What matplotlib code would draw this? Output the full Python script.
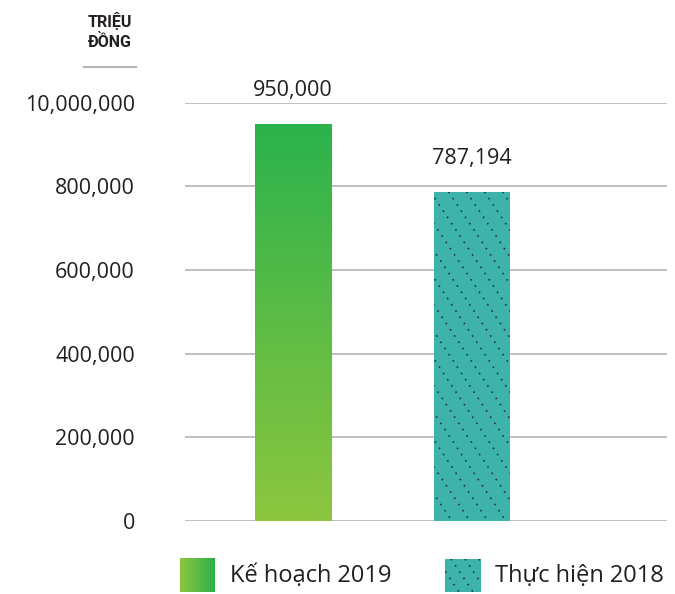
import matplotlib.pyplot as plt
import numpy as np
from matplotlib.colors import LinearSegmentedColormap
from matplotlib.patches import Rectangle

# data
categories = ["Kế hoạch 2019", "Thực hiện 2018"]
values = [950000, 787194]
value_labels = ["950,000", "787,194"]
yticks = [0, 200000, 400000, 600000, 800000, 1000000]
ytick_labels = ["0", "200,000", "400,000", "600,000", "800,000", "10,000,000"]

plt.rcParams['font.family'] = ['Open Sans', 'DejaVu Sans']

green_top = "#2bb24c"
green_bot = "#8dc63f"
teal = "#3db3ac"
dot_col = "#1d3b4a"
grad = LinearSegmentedColormap.from_list("g", [green_bot, green_top])

XLIM = (-0.603, 2.089)
YLIM = (0, 1000000)


def dotted_hatch(axis, patch, ux, uy, step_px=18, steep=1.5):
    # diagonal dotted lines (top-left -> bottom-right) clipped to patch
    px0, py0 = patch.get_x(), patch.get_y()
    pw, ph = patch.get_width(), patch.get_height()
    slope = steep * uy / ux
    step = step_px * ux
    for k in np.arange(-ph / slope, pw + step, step):
        xs = np.array([px0 + k, px0 + k + ph / slope])
        ys = np.array([py0 + ph, py0])
        ln, = axis.plot(xs, ys, color=dot_col, linestyle=(0, (1, 3.5)),
                        linewidth=1.2, zorder=4)
        ln.set_clip_path(patch)


fig = plt.figure(figsize=(6.75, 5.94), dpi=100)
ax = fig.add_axes([0.274, 0.123, 0.714, 0.704])

x = np.arange(len(categories))
bars = ax.bar(x, values, width=0.425, color=[green_top, teal], zorder=2)

ax.set_yticks(yticks)
ax.set_yticklabels(ytick_labels, fontsize=15.5, color="#231f20")
ax.tick_params(axis="y", length=0, pad=36)
ax.set_xticks([])
for s in ax.spines.values():
    s.set_visible(False)
ax.grid(axis="y", color="#b5b5b5", linewidth=1.2, zorder=0)
ax.set_axisbelow(True)

# gradient on first bar
b0 = bars[0]
bx, by = b0.get_x(), b0.get_y()
bw, bh = b0.get_width(), b0.get_height()
g = np.linspace(0, 1, 256).reshape(-1, 1)
im = ax.imshow(g, cmap=grad, aspect="auto", origin="lower",
               extent=[bx, bx + bw, by, by + bh], zorder=3)
im.set_clip_path(b0)

# dotted hatch on second bar
dotted_hatch(ax, bars[1], (XLIM[1] - XLIM[0]) / 482, (YLIM[1] - YLIM[0]) / 418)

for i, v in enumerate(values):
    ax.annotate(value_labels[i], (x[i], v), xytext=(0, 24),
                textcoords="offset points", ha="center", va="center",
                fontsize=15.5, color="#231f20")

ax.set_xlim(*XLIM)
ax.set_ylim(*YLIM)

# unit label
fig.text(0.163, 0.948, "TRIỆU\nĐỒNG", ha="center", va="center",
         fontsize=11.5, fontweight="bold", color="#231f20",
         family=["Liberation Sans Narrow", "Roboto", "DejaVu Sans"],
         linespacing=1.35)
fig.add_artist(plt.Line2D([0.124, 0.202], [0.887, 0.887],
                          color="#b5b5b5", linewidth=1.5))

# legend
lax = fig.add_axes([0, 0, 1, 0.08])
lax.axis("off")
h = np.linspace(0, 1, 256).reshape(1, -1)
lax.imshow(h, cmap=grad, aspect="auto", extent=[180, 215, 2, 35])
leg_patch = Rectangle((445, 2), 36, 33, facecolor=teal, edgecolor="none")
lax.add_patch(leg_patch)
dotted_hatch(lax, leg_patch, 1.0, 1.0, step_px=14)
lax.set_xlim(0, 675)
lax.set_ylim(0, 47.5)
lax.text(230, 18, categories[0], fontsize=17, va="center", color="#231f20")
lax.text(495, 18, categories[1], fontsize=17, va="center", color="#231f20")

fig.savefig("out.png", dpi=100)
